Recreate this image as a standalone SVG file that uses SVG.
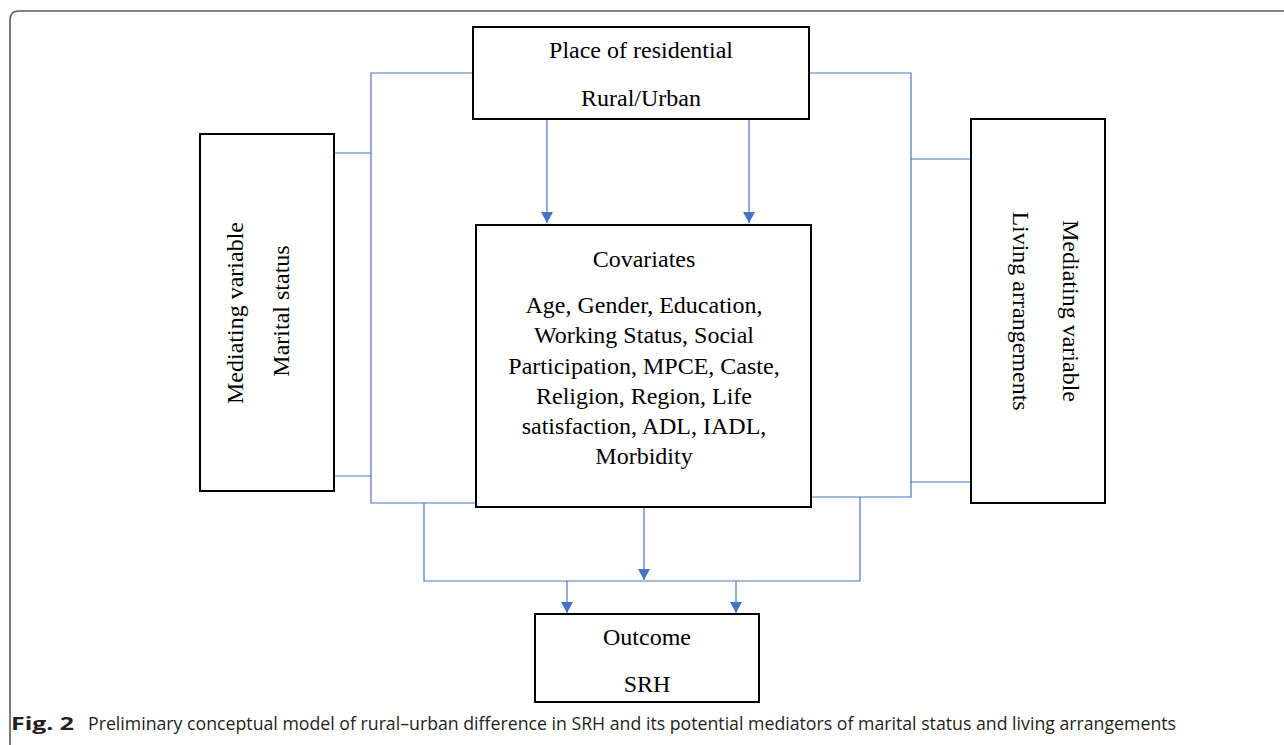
<svg xmlns="http://www.w3.org/2000/svg" width="1284" height="745" viewBox="0 0 1284 745">
  <style>
    .box { fill: #ffffff; stroke: #000000; stroke-width: 2; }
    .t { font-family: "Liberation Serif", "Times New Roman", serif; font-size: 24px; fill: #000000; text-anchor: middle; }
    .c { fill: none; stroke: #4a76c6; stroke-width: 1.2; }
    .cap { font-family: "Open Sans", "Noto Sans", sans-serif; font-size: 18.5px; fill: #231f20; }
  </style>
  <defs>
    <marker id="arr" markerUnits="userSpaceOnUse" markerWidth="13" markerHeight="13" refX="11" refY="6" orient="auto">
      <path d="M0,0 L11,6 L0,12 z" fill="#4472c4"/>
    </marker>
  </defs>
  <rect width="1284" height="745" fill="#ffffff"/>
  <path d="M10,745 L10,20 Q10,11 19,11 L1284,11" fill="none" stroke="#5e5e5e" stroke-width="1.6"/>

  <g id="connectors">
    <polyline class="c" points="473,73 371,73 371,503 476,503"/>
    <line class="c" x1="335" y1="153" x2="371" y2="153"/>
    <line class="c" x1="335" y1="476" x2="371" y2="476"/>
    <polyline class="c" points="809,73 911,73 911,497 812,497"/>
    <line class="c" x1="911" y1="159" x2="971" y2="159"/>
    <line class="c" x1="911" y1="482" x2="971" y2="482"/>
    <polyline class="c" points="424,503 424,581 860,581 860,497"/>
    <line class="c" x1="547" y1="119" x2="547" y2="223" marker-end="url(#arr)"/>
    <line class="c" x1="749" y1="119" x2="749" y2="223" marker-end="url(#arr)"/>
    <line class="c" x1="644" y1="507" x2="644" y2="580" marker-end="url(#arr)"/>
    <line class="c" x1="567" y1="581" x2="567" y2="613" marker-end="url(#arr)"/>
    <line class="c" x1="736" y1="581" x2="736" y2="613" marker-end="url(#arr)"/>
  </g>

  <g id="place">
    <rect class="box" x="473" y="27" width="336" height="92"/>
    <text class="t" x="641" y="58">Place of residential</text>
    <text class="t" x="641" y="106">Rural/Urban</text>
  </g>

  <g id="marital">
    <rect class="box" x="200" y="134" width="134" height="357"/>
    <text class="t" transform="translate(243,313) rotate(-90)">Mediating variable</text>
    <text class="t" transform="translate(289,311) rotate(-90)">Marital status</text>
  </g>

  <g id="living">
    <rect class="box" x="971" y="119" width="134" height="384"/>
    <text class="t" transform="translate(1063,311) rotate(90)">Mediating variable</text>
    <text class="t" transform="translate(1013,311) rotate(90)">Living arrangements</text>
  </g>

  <g id="covariates">
    <rect class="box" x="476" y="225" width="335" height="282"/>
    <text class="t" x="644" y="267">Covariates</text>
    <text class="t" x="644" y="313">Age, Gender, Education,</text>
    <text class="t" x="644" y="343">Working Status, Social</text>
    <text class="t" x="644" y="374">Participation, MPCE, Caste,</text>
    <text class="t" x="644" y="404">Religion, Region, Life</text>
    <text class="t" x="644" y="434">satisfaction, ADL, IADL,</text>
    <text class="t" x="644" y="464">Morbidity</text>
  </g>

  <g id="outcome">
    <rect class="box" x="535" y="614" width="224" height="88"/>
    <text class="t" x="647" y="645">Outcome</text>
    <text class="t" x="647" y="692">SRH</text>
  </g>

  <g id="caption">
    <text class="cap" x="11" y="730" font-weight="bold" textLength="63" lengthAdjust="spacingAndGlyphs">Fig. 2</text>
    <text class="cap" x="88" y="730" textLength="1088" lengthAdjust="spacingAndGlyphs">Preliminary conceptual model of rural–urban difference in SRH and its potential mediators of marital status and living arrangements</text>
  </g>
</svg>
